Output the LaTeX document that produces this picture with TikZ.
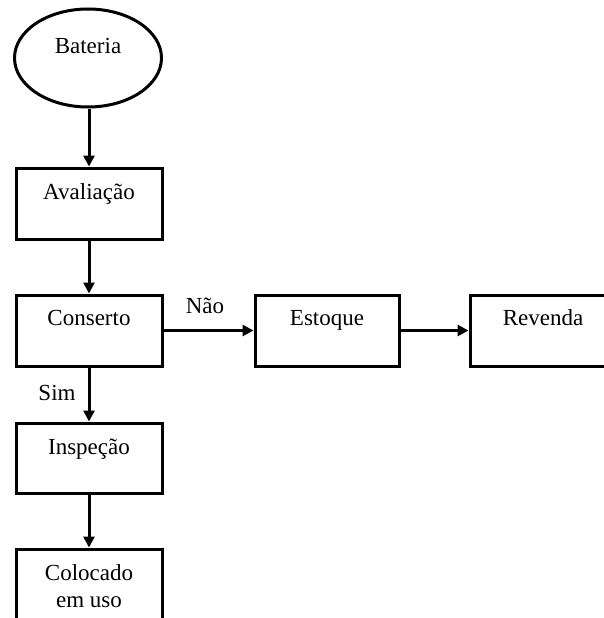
\documentclass[tikz,border=0pt]{standalone}
\usepackage{fontspec}
\setmainfont{Liberation Serif}
\usetikzlibrary{arrows.meta,shapes.geometric}
\begin{document}
\begin{tikzpicture}[x=1pt,y=1pt,
  box/.style={draw, line width=3pt, minimum width=146pt, minimum height=71pt, inner sep=0pt},
  oval/.style={ellipse, draw, line width=3pt, minimum width=147pt, minimum height=98pt, inner sep=0pt},
  txt/.style={anchor=base, inner sep=0pt, font=\fontsize{23}{27}\selectfont},
  arr/.style={line width=3pt, -{Triangle[length=11pt,width=11pt]}}]
\useasboundingbox (0,0) rectangle (604,-618);
\clip (0,0) rectangle (604,-618);
\fill[white] (0,0) rectangle (604,-618);
% shapes
\node[oval] (bat) at (88,-58) {};
\node[box] (aval) at (89,-203.5) {};
\node[box] (cons) at (89,-330.5) {};
\node[box, minimum width=144pt] (esto) at (327,-330.5) {};
\node[box, minimum width=160pt] (reve) at (550,-330.5) {};
\node[box, minimum height=70pt] (insp) at (89,-458) {};
\node[box] (colo) at (89,-584.5) {};
% texts
\node[txt] (batt) at (88,-54) {Bateria};
\node[txt] (avalt) at (89,-199) {Avaliação};
\node[txt] (const) at (89,-325.5) {Conserto};
\node[txt] (estot) at (327,-325.5) {Estoque};
\node[txt] (revet) at (543,-325.5) {Revenda};
\node[txt] (inspt) at (89,-454) {Inspeção};
\node[txt] (colot) at (89,-580) {Colocado};
\node[txt] (colot2) at (89,-607) {em uso};
\node[txt] (nao) at (205,-313) {Não};
\node[txt] (sim) at (57,-400) {Sim};
% connectors
\draw[arr] (aval.north |- bat.south) -- (aval.north);
\draw[arr] (aval.south) -- (cons.north);
\draw[arr] (cons.east) -- (esto.west);
\draw[arr] (esto.east) -- (reve.west);
\draw[arr] (cons.south) -- (insp.north);
\draw[arr] (insp.south) -- (colo.north);
\end{tikzpicture}
\end{document}
